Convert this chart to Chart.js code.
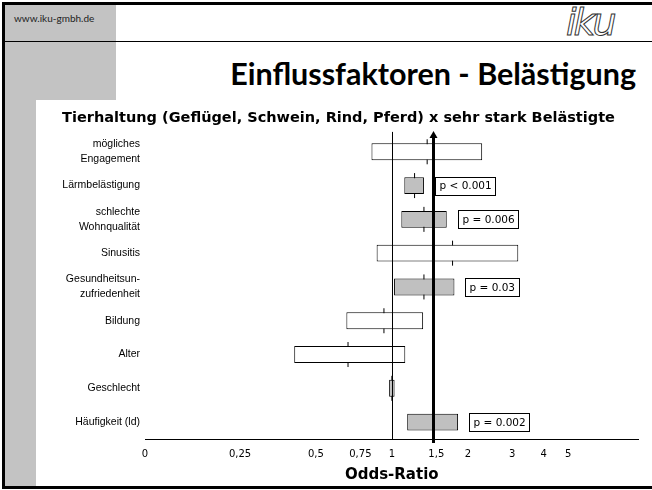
<!DOCTYPE html>
<html>
<head>
<meta charset="utf-8">
<script src="https://cdn.jsdelivr.net/npm/chart.js@4"></script>
<style>
  html, body { margin: 0; padding: 0; width: 652px; height: 490px; overflow: hidden; background: #fff; }
  .frame { position: absolute; left: 2px; top: 2px; width: 660px; height: 481px; border: 3px solid #000; border-right: none; }
  .gray-top { position: absolute; left: 5px; top: 5px; width: 111px; height: 95px; background: #c3c3c3; }
  .gray-side { position: absolute; left: 5px; top: 100px; width: 31px; height: 386px; background: #c3c3c3; }
  .rule { position: absolute; left: 5px; top: 41px; width: 647px; height: 1px; background: #000; }
  .url { position: absolute; left: 14px; top: 12px; font: 10px Lato, sans-serif; color: #222; }
  .logo { position: absolute; left: 566px; top: 0px; font: italic 38px "DejaVu Sans", sans-serif; letter-spacing: -3px;
          color: transparent; -webkit-text-stroke: 1px #333; }
  .headline { position: absolute; right: 16px; top: 55px; font: bold 30.5px Lato, sans-serif; color: #000; white-space: nowrap; }
  #chart { position: absolute; left: 36px; top: 100px; background: #fff; }
</style>
</head>
<body>
<div class="frame"></div>
<div class="gray-top"></div>
<div class="gray-side"></div>
<div class="rule"></div>
<div class="url">www.iku-gmbh.de</div>
<div class="logo">iku</div>
<div class="headline">Einflussfaktoren - Belästigung</div>
<canvas id="chart" width="616" height="386"></canvas>
<script>
const categories = [
  ["mögliches", "Engagement"], "Lärmbelästigung", ["schlechte", "Wohnqualität"], "Sinusitis",
  ["Gesundheitsun-", "zufriedenheit"], "Bildung", "Alter", "Geschlecht", "Häufigkeit (ld)"
];
const ciLower = [0.83, 1.12, 1.09, 0.87, 1.02, 0.66, 0.41, 0.975, 1.15];
const ciUpper = [2.28, 1.34, 1.65, 3.17, 1.77, 1.33, 1.13, 1.025, 1.83];
const oddsRatio = [1.38, 1.23, 1.34, 1.74, 1.34, 0.93, 0.67, 1.0, 1.45];
const significant = [false, true, true, false, true, false, false, true, true];
const pValues = ["", "p < 0.001", "p = 0.006", "", "p = 0.03", "", "", "", "p = 0.002"];
const tickValues = [0.105, 0.25, 0.5, 0.75, 1, 1.5, 2, 3, 4, 5];
const tickLabels = ["0", "0,25", "0,5", "0,75", "1", "1,5", "2", "3", "4", "5"];
const referenceOR = 1;
const overallOR = 1.45;

// reference lines, arrow and p-value boxes
const overlay = {
  id: "overlay",
  afterDatasetsDraw(chart) {
    const { ctx, chartArea, scales: { x, y } } = chart;
    ctx.save();
    ctx.strokeStyle = "#000";
    ctx.fillStyle = "#000";

    const x1 = Math.round(x.getPixelForValue(referenceOR)) + 0.5;
    ctx.lineWidth = 1;
    ctx.beginPath();
    ctx.moveTo(x1, chartArea.top - 3);
    ctx.lineTo(x1, chartArea.bottom);
    ctx.stroke();

    const x2 = Math.round(x.getPixelForValue(overallOR)) + 0.5;
    ctx.lineWidth = 3;
    ctx.beginPath();
    ctx.moveTo(x2, chartArea.top + 2);
    ctx.lineTo(x2, chartArea.bottom + 4);
    ctx.stroke();
    ctx.beginPath();
    ctx.moveTo(x2, chartArea.top - 4);
    ctx.lineTo(x2 - 4, chartArea.top + 3);
    ctx.lineTo(x2 + 4, chartArea.top + 3);
    ctx.closePath();
    ctx.fill();

    ctx.font = '10.5px "DejaVu Sans"';
    ctx.textBaseline = "middle";
    ctx.lineWidth = 1;
    pValues.forEach((p, i) => {
      if (!p) return;
      const bx = Math.round(x.getPixelForValue(ciUpper[i]) + 11) + 0.5;
      const cy = y.getPixelForValue(i);
      const w = Math.round(ctx.measureText(p).width + 8);
      const h = 18;
      const top = Math.round(cy - h / 2) + 0.5;
      ctx.fillStyle = "#fff";
      ctx.fillRect(bx, top, w, h);
      ctx.strokeRect(bx, top, w, h);
      ctx.fillStyle = "#000";
      ctx.fillText(p, bx + 4, cy + 1);
    });
    ctx.restore();
  }
};

new Chart(document.getElementById("chart"), {
  type: "bar",
  data: {
    labels: categories,
    datasets: [
      {
        type: "bar",
        indexAxis: "y",
        data: ciLower.map((l, i) => [l, ciUpper[i]]),
        backgroundColor: significant.map(s => (s ? "#c0c0c0" : "#ffffff")),
        borderColor: "#000",
        borderWidth: 1,
        borderSkipped: false,
        barPercentage: 0.5,
        categoryPercentage: 1,
        order: 1
      },
      {
        type: "line",
        indexAxis: "y",
        data: oddsRatio,
        showLine: false,
        pointStyle: "line",
        rotation: 90,
        pointRadius: 12.5,
        borderColor: "#000",
        pointBorderWidth: 1,
        order: 2
      }
    ]
  },
  options: {
    indexAxis: "y",
    responsive: false,
    animation: false,
    devicePixelRatio: 1,
    layout: { padding: { left: 0, right: 11, top: 0, bottom: 0 } },
    plugins: {
      legend: { display: false },
      tooltip: { enabled: false },
      title: {
        display: true,
        text: "Tierhaltung (Geflügel, Schwein, Rind, Pferd) x sehr stark Belästigte",
        color: "#000",
        font: { family: "DejaVu Sans", size: 14.5, weight: "bold" },
        padding: { top: 9.5, bottom: 8 }
      }
    },
    scales: {
      x: {
        type: "logarithmic",
        min: 0.105,
        max: 9.5,
        afterBuildTicks: s => { s.ticks = tickValues.map(v => ({ value: v })); },
        afterFit: s => { s.height = 47; },
        grid: { display: true, drawOnChartArea: false, drawTicks: false, color: "transparent" },
        border: { display: true, color: "#000", width: 1 },
        ticks: {
          autoSkip: false,
          maxRotation: 0,
          padding: 9,
          color: "#000",
          font: { family: "DejaVu Sans", size: 10 },
          callback: (v, i) => tickLabels[i]
        },
        title: {
          display: true,
          text: "Odds-Ratio",
          color: "#000",
          font: { family: "DejaVu Sans", size: 15, weight: "bold" },
          padding: { top: 2, bottom: 2 }
        }
      },
      y: {
        type: "category",
        afterFit: s => { s.width = 109; },
        grid: { display: false, drawTicks: false },
        border: { display: false },
        ticks: {
          padding: 5,
          color: "#000",
          font: { family: "Liberation Sans", size: 10.5, lineHeight: 1.45 }
        }
      }
    }
  },
  plugins: [overlay]
});
</script>
</body>
</html>
